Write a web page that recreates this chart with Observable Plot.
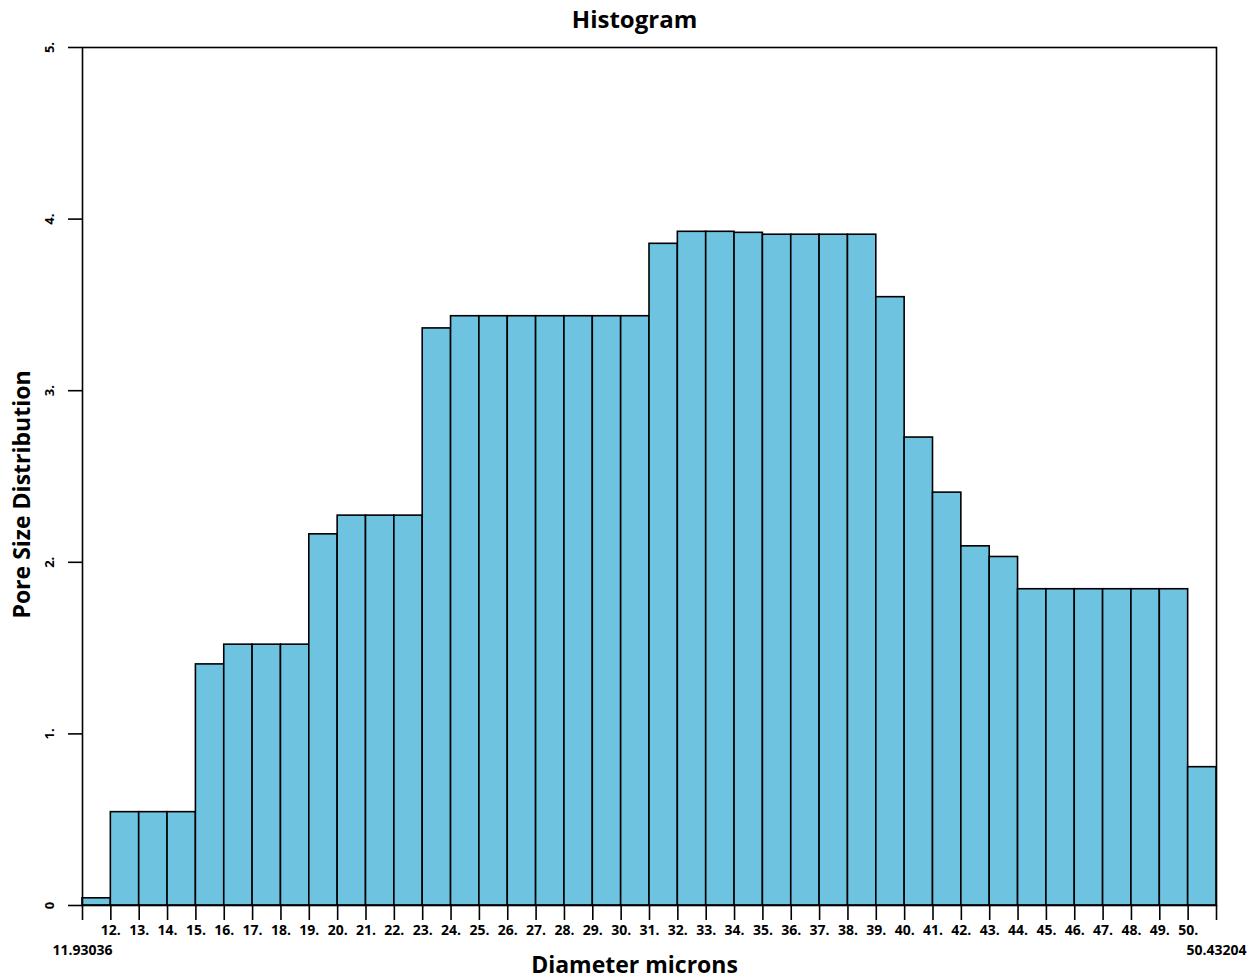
<!DOCTYPE html>
<html><head><meta charset="utf-8">
<script src="https://cdn.jsdelivr.net/npm/d3@7"></script>
<script src="https://cdn.jsdelivr.net/npm/@observablehq/plot@0.6"></script>
<style>body{margin:0;background:#fff}</style>
</head><body><div id="chart"></div>
<script>
const binEdgeLabels = ["11.93036","12.","13.","14.","15.","16.","17.","18.","19.","20.","21.","22.","23.","24.","25.","26.","27.","28.","29.","30.","31.","32.","33.","34.","35.","36.","37.","38.","39.","40.","41.","42.","43.","44.","45.","46.","47.","48.","49.","50.","50.43204"];
const values = [0.042, 0.544, 0.544, 0.544, 1.405, 1.52, 1.52, 1.52, 2.163, 2.272, 2.272, 2.272, 3.363, 3.434, 3.434, 3.434, 3.434, 3.434, 3.434, 3.434, 3.856, 3.926, 3.926, 3.92, 3.909, 3.909, 3.909, 3.909, 3.545, 2.727, 2.406, 2.093, 2.031, 1.843, 1.843, 1.843, 1.843, 1.843, 1.843, 0.806];
const yTicks = [0, 1, 2, 3, 4, 5];
const yTickLabels = ["0", "1.", "2.", "3.", "4.", "5."];
const title = "Histogram";
const xLabel = "Diameter microns";
const yLabel = "Pore Size Distribution";

const bins = values.map((v, i) => ({i, v}));
const nBins = values.length;
const innerTicks = d3.range(1, nBins);
const outerTicks = [0, nBins];
const font = "'Open Sans', Lato, sans-serif";

const chart = Plot.plot({
  width: 1256,
  height: 980,
  marginLeft: 82,
  marginRight: 40,
  marginTop: 47,
  marginBottom: 75,
  style: {fontFamily: font, fontWeight: "bold", fontSize: "14px", background: "#fff", color: "#000"},
  x: {domain: [0, nBins], axis: null},
  y: {domain: [0, 5], axis: null},
  marks: [
    Plot.rectY(bins, {x1: "i", x2: d => d.i + 1, y: "v", fill: "#6ec3e1", stroke: "#000", strokeWidth: 1.6}),
    Plot.frame({stroke: "#000", strokeWidth: 1.6}),
    Plot.axisX({ticks: innerTicks, tickFormat: i => binEdgeLabels[i], tickSize: 15, tickPadding: 5, label: null, strokeWidth: 1.6, fontSize: 14, fontWeight: "bold"}),
    Plot.axisX({ticks: outerTicks, tickFormat: i => binEdgeLabels[i], tickSize: 15, tickPadding: 25, label: null, strokeWidth: 1.6, fontSize: 14, fontWeight: "bold"}),
    Plot.axisY({ticks: yTicks, tickSize: 14, tickFormat: () => "", label: null, strokeWidth: 1.6}),
    Plot.text(yTicks, {y: d => d, text: (d, i) => yTickLabels[i], frameAnchor: "left", dx: -33, rotate: -90, textAnchor: "middle", lineAnchor: "middle", fontSize: 13, fontWeight: "bold"}),
    Plot.text([title], {frameAnchor: "top", dy: -27, dx: -15, fontSize: 24, fontWeight: "bold", lineAnchor: "middle"}),
    Plot.text([xLabel], {frameAnchor: "bottom", dy: 60, dx: -15, fontSize: 23, fontWeight: "bold", lineAnchor: "middle"}),
    Plot.text([yLabel], {frameAnchor: "left", dx: -60, dy: 18, rotate: -90, textAnchor: "middle", lineAnchor: "middle", fontSize: 23, fontWeight: "bold"})
  ]
});
document.getElementById("chart").appendChild(chart);
</script>
</body></html>
